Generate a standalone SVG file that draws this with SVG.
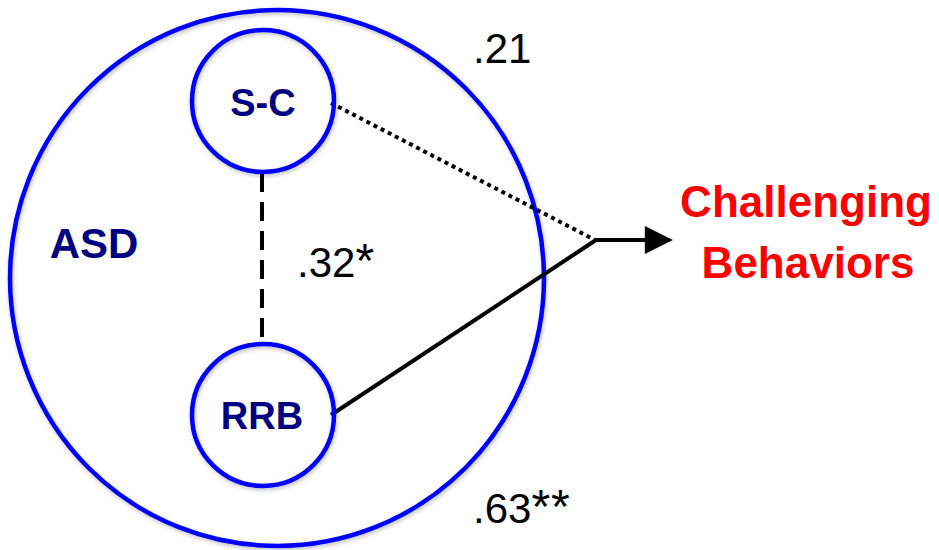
<svg xmlns="http://www.w3.org/2000/svg" width="939" height="550" viewBox="0 0 939 550">
<style>
.ring{fill:none;stroke:#0000FF;stroke-width:4.5}
.lbl{font-family:"Liberation Sans",Arial,sans-serif;font-weight:bold;fill:#000080;text-anchor:middle}
.num{font-family:"Liberation Sans",Arial,sans-serif;fill:#000000;font-size:42px}
.ast{font-size:48px}
.out{font-family:"Liberation Sans",Arial,sans-serif;font-weight:bold;fill:#FF0000;font-size:44px;text-anchor:middle}
.conn{stroke:#000000;stroke-width:4;fill:none}
</style>
<defs>
<filter id="sh" x="-10%" y="-10%" width="120%" height="120%">
<feDropShadow dx="1" dy="2" stdDeviation="2" flood-color="#000" flood-opacity="0.25"/>
</filter>
<marker id="arr" viewBox="0 0 10 10" refX="9" refY="5" markerWidth="7.5" markerHeight="7" markerUnits="strokeWidth" orient="auto">
<path d="M0,0 L10,5 L0,10 z" fill="#000"/>
</marker>
</defs>
<rect width="939" height="550" fill="#FFFFFF"/>
<g id="asd">
<ellipse class="ring" cx="277" cy="278" rx="267" ry="268" filter="url(#sh)"/>
<text class="lbl" x="94" y="258" font-size="42">ASD</text>
</g>
<g id="connectors">
<line class="conn" x1="262" y1="173" x2="262" y2="344" stroke-dasharray="19,10"/>
<line class="conn" x1="331" y1="103" x2="595" y2="240" stroke-dasharray="4,4"/>
<line class="conn" x1="331" y1="415" x2="596" y2="240"/>
<line class="conn" x1="594" y1="240" x2="670" y2="240" stroke-width="4.5" marker-end="url(#arr)"/>
</g>
<g id="sc">
<circle class="ring" cx="263" cy="101" r="71" filter="url(#sh)"/>
<text class="lbl" x="263" y="116" font-size="38">S-C</text>
</g>
<g id="rrb">
<circle class="ring" cx="263" cy="415" r="71" filter="url(#sh)"/>
<text class="lbl" x="262" y="429" font-size="38">RRB</text>
</g>
<g id="challenging">
<text class="out" x="806" y="217">Challenging</text>
<text class="out" x="808" y="278">Behaviors</text>
</g>
<g id="labels">
<text class="num" x="473" y="63">.21</text>
<text class="num" x="297" y="277">.32<tspan class="ast">*</tspan></text>
<text class="num" x="473" y="523">.63<tspan class="ast" letter-spacing="1">**</tspan></text>
</g>
</svg>
